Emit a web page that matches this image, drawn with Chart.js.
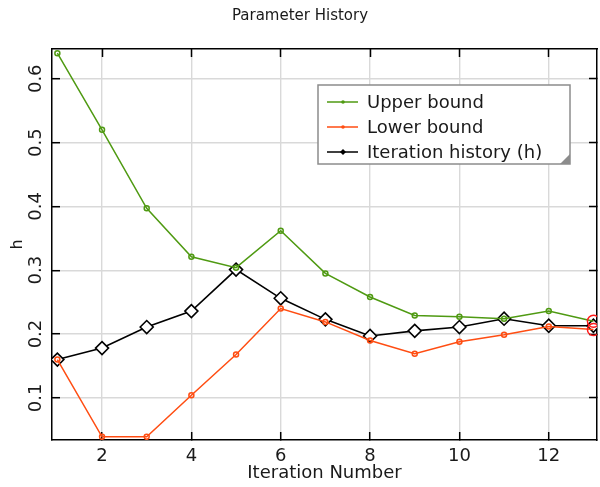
<!DOCTYPE html>
<html>
<head>
<meta charset="utf-8">
<script src="https://cdn.jsdelivr.net/npm/chart.js@4.4.1/dist/chart.umd.min.js"></script>
<style>
  html,body{margin:0;padding:0;background:#fff;}
  #wrap{width:600px;height:487px;position:relative;}
</style>
</head>
<body>
<div id="wrap"><canvas id="c"></canvas></div>
<script>
// values
const iterations = [1,2,3,4,5,6,7,8,9,10,11,12,13];
const upperBound = [0.640,0.520,0.397,0.321,0.304,0.362,0.295,0.258,0.229,0.227,0.224,0.236,0.220];
const lowerBound = [0.160,0.039,0.039,0.104,0.168,0.240,0.219,0.190,0.169,0.188,0.199,0.212,0.207];
const hHistory   = [0.160,0.178,0.211,0.236,0.301,0.256,0.223,0.197,0.205,0.211,0.224,0.213,0.213];
const xTicks = [2,4,6,8,10,12];
const yTicks = [0.1,0.2,0.3,0.4,0.5,0.6];

const GREEN='#4f9a12', ORANGE='#ff4d12', RED='#ff1a1a', INK='#1a1a1a';
const FONT='"DejaVu Sans", Verdana, sans-serif';
Chart.defaults.font.family=FONT;
Chart.defaults.color=INK;

const last=iterations.length-1;
const pts=a=>a.map((v,i)=>({x:iterations[i],y:v}));

// legend box drawn inside the plot, like the original
const boxLegend={
  id:'boxLegend',
  afterDraw(chart){
    const {ctx,chartArea:ca}=chart;
    const x0=ca.right-279, y0=ca.top+36, w=252, h=79;
    ctx.save();
    ctx.fillStyle='#fff'; ctx.fillRect(x0,y0,w,h);
    ctx.strokeStyle='#8c8c8c'; ctx.lineWidth=1.5; ctx.strokeRect(x0,y0,w,h);
    ctx.fillStyle='#8c8c8c';
    ctx.beginPath(); ctx.moveTo(x0+w,y0+h-10); ctx.lineTo(x0+w,y0+h); ctx.lineTo(x0+w-10,y0+h); ctx.closePath(); ctx.fill();
    ctx.font='18px '+FONT; ctx.textBaseline='middle';
    chart.data.datasets.forEach((ds,i)=>{
      const y=y0+17+i*25;
      ctx.strokeStyle=ds.borderColor; ctx.lineWidth=1.5;
      ctx.beginPath(); ctx.moveTo(x0+9,y); ctx.lineTo(x0+40,y); ctx.stroke();
      ctx.fillStyle=ds.borderColor;
      ctx.beginPath();
      if(ds.pointStyle==='rectRot'){ctx.moveTo(x0+25,y-3);ctx.lineTo(x0+28,y);ctx.lineTo(x0+25,y+3);ctx.lineTo(x0+22,y);ctx.closePath();}
      else ctx.arc(x0+25,y,1.8,0,Math.PI*2);
      ctx.fill();
      ctx.fillStyle=INK; ctx.fillText(ds.label,x0+49,y+1);
    });
    ctx.restore();
  }
};

const xGrid={color:'#d9d9d9',lineWidth:1.4,tickLength:-8,tickColor:'#000',tickWidth:1.5};
const border={display:true,color:'#000',width:1.5};
const setX=s=>{s.ticks=xTicks.map(v=>({value:v}));};
const setY=s=>{s.ticks=yTicks.map(v=>({value:v}));};
const noPad=s=>{s.paddingLeft=0;s.paddingRight=0;s.paddingTop=0;s.paddingBottom=0;};

new Chart(document.getElementById('c'),{
  type:'line',
  data:{datasets:[
    {label:'Upper bound',data:pts(upperBound),borderColor:GREEN,borderWidth:1.5,
      pointStyle:'circle',pointBackgroundColor:'rgba(0,0,0,0)',pointBorderWidth:1.5,
      pointBorderColor:c=>c.dataIndex===last?RED:GREEN,
      pointRadius:c=>c.dataIndex===last?6:2.5},
    {label:'Lower bound',data:pts(lowerBound),borderColor:ORANGE,borderWidth:1.5,
      pointStyle:'circle',pointBackgroundColor:'rgba(0,0,0,0)',pointBorderWidth:1.5,
      pointBorderColor:c=>c.dataIndex===last?RED:ORANGE,
      pointRadius:c=>c.dataIndex===last?6:2.5},
    {label:'Iteration history (h)',data:pts(hHistory),borderColor:'#000',borderWidth:1.6,
      pointStyle:'rectRot',pointRadius:6.5,pointBorderWidth:1.6,pointBorderColor:'#000',pointBackgroundColor:'#fff'}
  ]},
  options:{
    responsive:true,maintainAspectRatio:false,animation:false,
    layout:{padding:0,autoPadding:false},
    plugins:{
      legend:{display:false},tooltip:{enabled:false},
      title:{display:true,text:'Parameter History',color:INK,font:{size:15,weight:'normal'},padding:{top:7,bottom:24}}
    },
    scales:{
      x:{type:'linear',position:'bottom',min:0.88,max:13.08,
        afterBuildTicks:setX,afterFit:s=>{s.height=47;noPad(s);},
        grid:xGrid,border,
        ticks:{font:{size:18},padding:14,color:INK},
        title:{display:true,text:'Iteration Number',font:{size:18},padding:{top:0,bottom:3},color:INK}},
      x2:{type:'linear',position:'top',min:0.88,max:13.08,
        afterBuildTicks:setX,afterFit:s=>{s.height=0;noPad(s);},
        grid:{drawOnChartArea:false,tickLength:-8,tickColor:'#000',tickWidth:1.5},border,
        ticks:{display:false}},
      y:{type:'linear',position:'left',min:0.034,max:0.6466,
        afterBuildTicks:setY,afterFit:s=>{s.width=52;noPad(s);},
        grid:xGrid,border,
        ticks:{font:{size:18},padding:9,color:INK,minRotation:90,maxRotation:90,crossAlign:'center',callback:v=>v.toFixed(1)},
        title:{display:true,text:'h',font:{size:16},padding:{top:8,bottom:0},color:INK}},
      y2:{type:'linear',position:'right',min:0.034,max:0.6466,
        afterBuildTicks:setY,afterFit:s=>{s.width=3;noPad(s);},
        grid:{drawOnChartArea:false,tickLength:-8,tickColor:'#000',tickWidth:1.5},border,
        ticks:{display:false}}
    }
  },
  plugins:[boxLegend]
});
</script>
</body>
</html>
